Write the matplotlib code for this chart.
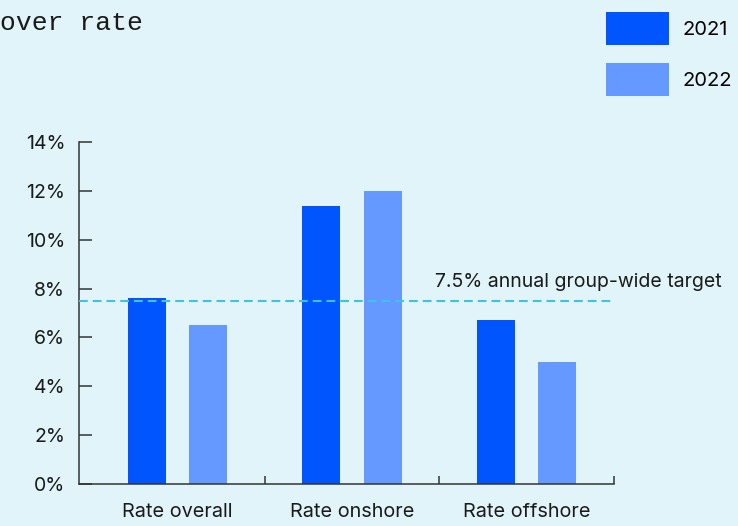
import matplotlib.pyplot as plt
import numpy as np

categories = ["Rate overall", "Rate onshore", "Rate offshore"]
years = ["2021", "2022"]
rate_2021 = [7.6, 11.4, 6.7]
rate_2022 = [6.5, 12.0, 5.0]
target = 7.5
yticks = [0, 2, 4, 6, 8, 10, 12, 14]

bg = "#e1f4fa"
c2021 = "#0055ff"
c2022 = "#6699ff"
ink = "#1a1a1a"

plt.rcParams['font.family'] = ['Inter', 'DejaVu Sans']

fig = plt.figure(figsize=(7.38, 5.26), dpi=100, facecolor=bg)
ax = fig.add_axes([79 / 738, 1 - 484 / 526, 535 / 738, 342 / 526])
ax.set_facecolor(bg)

x = np.arange(len(categories))
w = 0.217
off = 0.175
ax.bar(x - off, rate_2021, w, color=c2021, label=years[0])
ax.bar(x + off, rate_2022, w, color=c2022, label=years[1])

# target line across the whole axis
ax.axhline(target, color="#3fc3e3", lw=1.5, dashes=(4.2, 2.4), zorder=3)
ax.text(1.477, target + 0.78, "7.5% annual group-wide target", ha="left", va="center",
        fontsize=14, color=ink, clip_on=False)

ax.set_xlim(-0.563, 2.5)
ax.set_ylim(0, 14)

ax.set_yticks(yticks)
ax.set_yticklabels([f"{v}%" for v in yticks])
ax.tick_params(axis="y", direction="in", length=9.5, width=1.1, color="#333333",
               labelsize=14, labelcolor=ink, pad=10)

ax.set_xticks(x)
ax.set_xticklabels(categories)
ax.tick_params(axis="x", which="major", length=0, labelsize=14.3, labelcolor=ink, pad=14)
ax.set_xticks([0.5, 1.5, 2.5], minor=True)
ax.tick_params(axis="x", which="minor", direction="in", length=5.5, width=1.1, color="#333333")

for s in ["top", "right"]:
    ax.spines[s].set_visible(False)
for s in ["left", "bottom"]:
    ax.spines[s].set_linewidth(1.1)
    ax.spines[s].set_color("#333333")

fig.legend(loc="upper right", bbox_to_anchor=(732 / 738, 1 - 12 / 526), frameon=False,
           fontsize=14.5, handlelength=3.15, handleheight=2.15, handletextpad=0.65,
           labelspacing=0.9, borderpad=0, borderaxespad=0)

fig.text(0.0005, 1 - 23 / 526, "over rate", ha="left", va="center",
         family="Liberation Mono", fontsize=19, color=ink)

fig.savefig("out.png", dpi=100, facecolor=bg)
